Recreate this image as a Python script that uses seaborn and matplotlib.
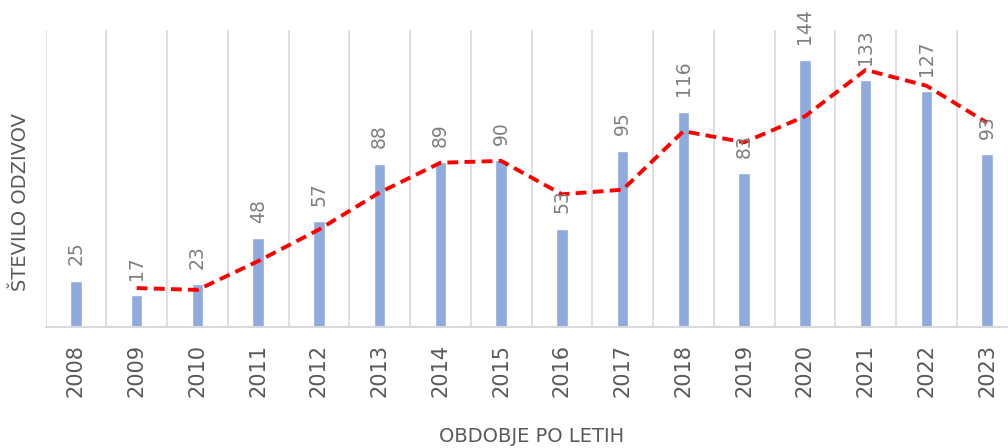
import matplotlib
matplotlib.use("Agg")
import matplotlib.pyplot as plt
import numpy as np
import pandas as pd
import seaborn as sns

# podatki
years = [str(y) for y in range(2008, 2024)]
odzivi = [25, 17, 23, 48, 57, 88, 89, 90, 53, 95, 116, 83, 144, 133, 127, 93]
# drseče povprečje (2 obdobji), odčitano s slike
trend = [np.nan, 21, 20, 35.5, 52.5, 72.5, 88.5, 89.5, 71.5, 74,
         105.5, 99.5, 113.5, 138.5, 130, 110]

df = pd.DataFrame({'leto': years, 'odzivi': odzivi, 'trend': trend})

sns.set_theme(style="white")
plt.rcParams['font.family'] = ['DejaVu Sans']

fig = plt.figure(figsize=(10.08, 4.48), dpi=100)
ax = fig.add_axes([0.0452, 0.270, 0.9643, 0.663])

sns.barplot(data=df, x='leto', y='odzivi', color='#8FAADC', width=0.19,
            saturation=1, ax=ax)
sns.lineplot(x=np.arange(len(years)), y=df['trend'], color='#FF0000',
             linewidth=2.8, dashes=False, ax=ax)
ax.lines[-1].set_dashes((2.8, 1.6))

# oznake vrednosti
for i, v in enumerate(odzivi):
    ax.annotate(str(v), (i, v), xytext=(0, 11), textcoords='offset points',
                rotation=90, ha='center', va='bottom', fontsize=13.5,
                color='#7F7F7F', annotation_clip=False)

ax.set_xlim(-0.5, len(years) - 0.5)
ax.set_ylim(0, 160)
ax.set_xticks(np.arange(-0.5, len(years), 1), minor=True)
ax.grid(which='minor', axis='x', color='#D9D9D9', linewidth=1.2)
ax.grid(which='major', visible=False)
ax.set_yticks([])
ax.tick_params(axis='x', which='both', length=0, pad=12)
ax.tick_params(axis='x', which='major', labelrotation=90, labelsize=15,
               labelcolor='#595959')
ax.set_xlabel('')
ax.set_ylabel('')
for s in ['top', 'right', 'left']:
    ax.spines[s].set_visible(False)
ax.spines['bottom'].set_color('#D9D9D9')
ax.spines['bottom'].set_linewidth(1.5)

fig.text(0.020, 0.549, 'ŠTEVILO ODZIVOV', rotation=90, ha='center',
         va='center', fontsize=14, color='#595959')
fig.text(0.527, 0.004, 'OBDOBJE PO LETIH', ha='center', va='bottom',
         fontsize=14, color='#595959')

plt.savefig('out.png', dpi=100)
plt.close()
